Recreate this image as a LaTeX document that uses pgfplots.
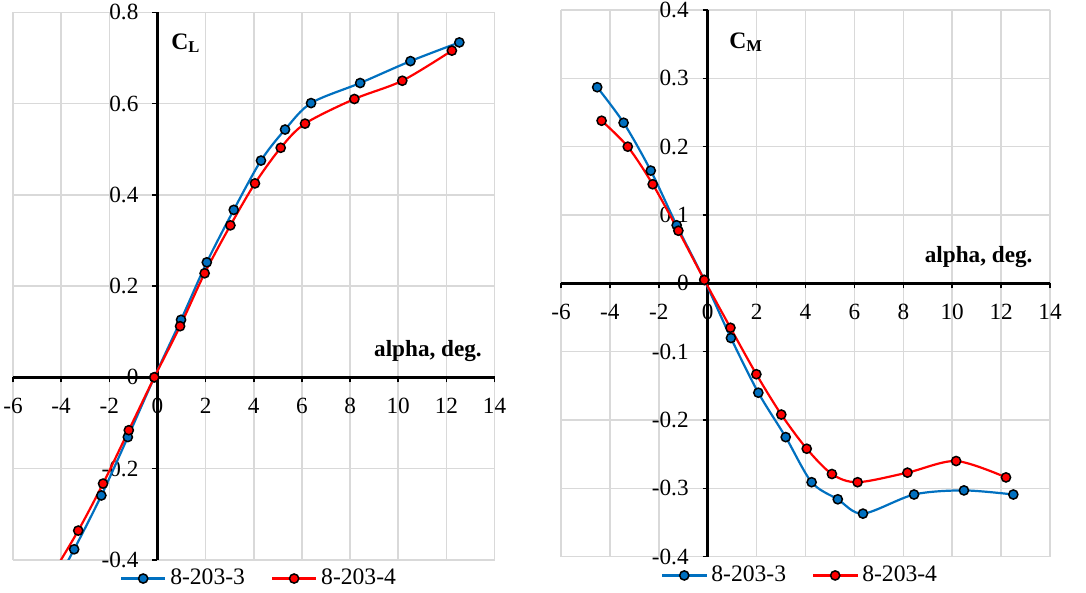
\documentclass[border=0pt]{standalone}
\usepackage{fontspec}
\setmainfont{Liberation Serif}
\usepackage{pgfplots}
\pgfplotsset{compat=1.18}
\definecolor{s3}{HTML}{0070C0}
\definecolor{s4}{HTML}{FF0000}
\definecolor{gridgray}{HTML}{D9D9D9}

\pgfplotsset{aero/.style={
  scale only axis, axis lines=middle, axis line style={black,line width=1.5pt,-},
  grid=major, grid style={gridgray,line width=0.75pt},
  xmin=-6, xmax=14, xtick={-6,-4,...,14},
  xticklabels={-6,-4,-2,0,2,4,6,8,10,12,14},
  hide obscured x ticks=false, hide obscured y ticks=false,
  tick align=outside, major tick length=2.5pt,
  tick style={black,line width=0.75pt},
  tick label style={font=\fontsize{11.6}{13}\selectfont},
  xticklabel style={anchor=north,yshift=-4.5pt},
  yticklabel style={anchor=east,xshift=-3.5pt},
  legend columns=2,
  legend style={draw=none,fill=none,anchor=north,yshift=-0.5pt,
    font=\fontsize{11.8}{13}\selectfont,
    /tikz/every even column/.append style={column sep=11pt}},
  legend image code/.code={\draw[#1,mark repeat=2,mark phase=2]
    plot coordinates {(0pt,0pt)(11pt,0pt)(22pt,0pt)};},
  every axis plot/.append style={line width=1.1pt,smooth},
}}
\pgfplotsset{s3plot/.style={s3,mark=*,mark size=2.3pt,mark options={draw=black,fill=s3,line width=0.75pt}},
  s4plot/.style={s4,mark=*,mark size=2.3pt,mark options={draw=black,fill=s4,line width=0.75pt}}}

\begin{document}
\begin{tikzpicture}
\useasboundingbox (0,0) rectangle (543pt,296.5pt);

\begin{axis}[aero, at={(6.5pt,16.6pt)}, anchor=south west,
  width=240.75pt, height=273.75pt, ymin=-0.4, ymax=0.8,
  ytick={-0.4,-0.2,0,0.2,0.4,0.6,0.8},
  yticklabels={-0.4,-0.2,0,0.2,0.4,0.6,0.8},
  legend style={at={(rel axis cs:0.513,0)}}]
\addplot[s3plot] coordinates {
 (-4.57,-0.485) (-3.46,-0.377) (-2.33,-0.259) (-1.23,-0.131) (-0.13,0.0)
 (0.98,0.126) (2.05,0.252) (3.17,0.367) (4.30,0.475) (5.30,0.543)
 (6.38,0.601) (8.42,0.645) (10.51,0.693) (12.54,0.734)};
\addlegendentry{8-203-3}
\addplot[s4plot] coordinates {
 (-4.35,-0.43) (-3.29,-0.336) (-2.26,-0.233) (-1.19,-0.116) (-0.13,0.0)
 (0.94,0.112) (1.96,0.228) (3.03,0.333) (4.05,0.425) (5.12,0.503)
 (6.13,0.556) (8.18,0.610) (10.17,0.650) (12.23,0.716)};
\addlegendentry{8-203-4}
\node[anchor=base west,font=\bfseries\fontsize{11.8}{13}\selectfont,inner sep=0pt]
  at (axis cs:0.565,0.719) {C\textsubscript{L}};
\node[anchor=base east,font=\bfseries\fontsize{11.6}{13}\selectfont,inner sep=0pt]
  at (axis cs:13.49,0.045) {alpha, deg.};
\end{axis}

\begin{axis}[aero, at={(280.5pt,18.15pt)}, anchor=south west,
  width=244.5pt, height=273.35pt, ymin=-0.4, ymax=0.4,
  ytick={-0.4,-0.3,-0.2,-0.1,0,0.1,0.2,0.3,0.4},
  yticklabels={-0.4,-0.3,-0.2,-0.1,0,0.1,0.2,0.3,0.4},
  legend style={at={(rel axis cs:0.491,0)}}]
\addplot[s3plot] coordinates {
 (-4.52,0.287) (-3.44,0.235) (-2.33,0.165) (-1.27,0.085) (-0.14,0.005)
 (0.95,-0.080) (2.07,-0.160) (3.19,-0.225) (4.25,-0.291) (5.32,-0.316)
 (6.35,-0.337) (8.44,-0.309) (10.48,-0.303) (12.50,-0.309)};
\addlegendentry{8-203-3}
\addplot[s4plot] coordinates {
 (-4.34,0.238) (-3.27,0.200) (-2.25,0.145) (-1.20,0.077) (-0.14,0.005)
 (0.93,-0.065) (1.99,-0.133) (3.01,-0.192) (4.05,-0.242) (5.08,-0.279)
 (6.13,-0.291) (8.17,-0.277) (10.16,-0.260) (12.20,-0.284)};
\addlegendentry{8-203-4}
\node[anchor=base west,font=\bfseries\fontsize{11.8}{13}\selectfont,inner sep=0pt]
  at (axis cs:0.87,0.344) {C\textsubscript{M}};
\node[anchor=base east,font=\bfseries\fontsize{11.6}{13}\selectfont,inner sep=0pt]
  at (axis cs:13.30,0.031) {alpha, deg.};
\end{axis}
\end{tikzpicture}
\end{document}
